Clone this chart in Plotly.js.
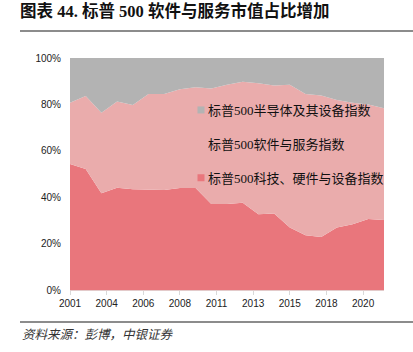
<!DOCTYPE html>
<html>
<head>
<meta charset="utf-8">
<script src="https://cdn.plot.ly/plotly-3.0.1.min.js"></script>
<style>
html,body{margin:0;padding:0;background:#fff;}
#chart{width:413px;height:352px;}
</style>
</head>
<body>
<div id="chart"></div>
<script>
// Data points (annual, year-end)
const periods = [2001,2002,2003,2004,2005,2006,2007,2008,2009,2010,2011,2012,2013,2014,2015,2016,2017,2018,2019,2020,2021];
const techHardware = [54.3,52.2,41.7,44.1,43.4,43.1,43.1,44.0,44.0,37.1,37.1,37.6,32.6,33.0,26.9,23.6,22.8,26.9,28.3,30.6,30.2];
const software     = [26.4,31.4,34.7,37.1,36.3,41.4,41.4,42.5,43.4,49.7,51.4,52.2,56.5,55.2,61.6,60.9,61.0,55.0,52.4,49.4,48.1];
const semis        = [19.3,16.4,23.6,18.8,20.3,15.5,15.5,13.5,12.6,13.2,11.5,10.2,10.9,11.8,11.5,15.5,16.2,18.1,19.3,20.0,21.7];
const seriesNames = ['标普500科技、硬件与设备指数','标普500软件与服务指数','标普500半导体及其设备指数'];
const seriesColors = ['#E9767C','#EAACAC','#B3B3B3'];
const tickLabels = ['2001','2004','2006','2008','2011','2013','2015','2018','2020'];
const yTicks = [0,20,40,60,80,100];

const idx = periods.map((_, i) => i);
const seriesValues = [techHardware, software, semis];

const traces = [];
seriesValues.forEach((vals, k) => {
  traces.push({
    x: idx, y: vals, type: 'scatter', mode: 'lines',
    stackgroup: 'one', line: {width: 0, color: seriesColors[k]},
    fillcolor: seriesColors[k], showlegend: false, hoverinfo: 'skip'
  });
});
// legend entries (small squares)
[2,1,0].forEach(k => {
  traces.push({
    x: [null], y: [null], type: 'scatter', mode: 'markers',
    name: seriesNames[k], legendgroup: 'g' + k,
    marker: {symbol: 'square', size: 7, color: seriesColors[k]},
    showlegend: true
  });
});

const L = 70, R = 384, T = 58, B = 290, W = 413, H = 352;
const px = v => (v - L) / (R - L);
const py = v => (B - v) / (B - T);

const layout = {
  width: W, height: H,
  margin: {l: L, r: W - R, t: T, b: H - B, pad: 0},
  paper_bgcolor: '#fff', plot_bgcolor: '#fff',
  font: {family: 'Liberation Sans, Arial, sans-serif', size: 10, color: '#222'},
  title: {
    text: '图表 44. 标普 500 软件与服务市值占比增加',
    xref: 'container', yref: 'container', x: 20 / W, xanchor: 'left',
    y: 1 - 11 / H, yanchor: 'middle',
    font: {family: 'Liberation Serif, Noto Sans CJK SC, serif', size: 16.5, color: '#111', weight: 'bold'}
  },
  xaxis: {
    range: [0, periods.length - 1], tickmode: 'array',
    tickvals: tickLabels.map((_, k) => k * 7 / 3), ticktext: tickLabels,
    showgrid: false, zeroline: false, showline: true, linecolor: '#E3CACA', linewidth: 1,
    ticks: 'outside', ticklen: 4, tickcolor: '#D9D9D9',
    tickfont: {size: 10, color: '#222'}, fixedrange: true
  },
  yaxis: {
    range: [0, 100], tickmode: 'array', tickvals: yTicks, ticktext: yTicks.map(v => v + '%'),
    showgrid: false, zeroline: false, showline: false, ticks: '',
    ticklabelstandoff: 8, tickfont: {size: 10, color: '#222'}, fixedrange: true
  },
  legend: {
    x: px(168), xanchor: 'left', y: py(95), yanchor: 'top',
    bgcolor: 'rgba(0,0,0,0)', borderwidth: 0,
    traceorder: 'grouped', tracegroupgap: 14,
    font: {family: 'Liberation Serif, Noto Sans CJK SC, serif', size: 13, color: '#111'}
  },
  shapes: [
    {type: 'line', xref: 'paper', yref: 'paper', x0: px(20), x1: px(413), y0: py(31), y1: py(31), line: {color: '#8C8C8C', width: 2}},
    {type: 'line', xref: 'paper', yref: 'paper', x0: px(20), x1: px(413), y0: py(322), y1: py(322), line: {color: '#8C8C8C', width: 2}}
  ],
  annotations: [
    {text: '<i>资料来源：彭博，中银证券</i>', xref: 'paper', yref: 'paper', x: px(20), xanchor: 'left',
     y: py(333), yanchor: 'middle', showarrow: false,
     font: {family: 'Noto Sans CJK SC, sans-serif', size: 12.5, color: '#333'}}
  ]
};

Plotly.newPlot('chart', traces, layout, {displayModeBar: false, staticPlot: true}).then(gd => {
  // bring the legend squares close to their labels, as in the reference
  gd.querySelectorAll('.legend .legendpoints path.scatterpts').forEach(p => {
    p.setAttribute('transform', 'translate(33,0)');
  });
});
</script>
</body>
</html>
